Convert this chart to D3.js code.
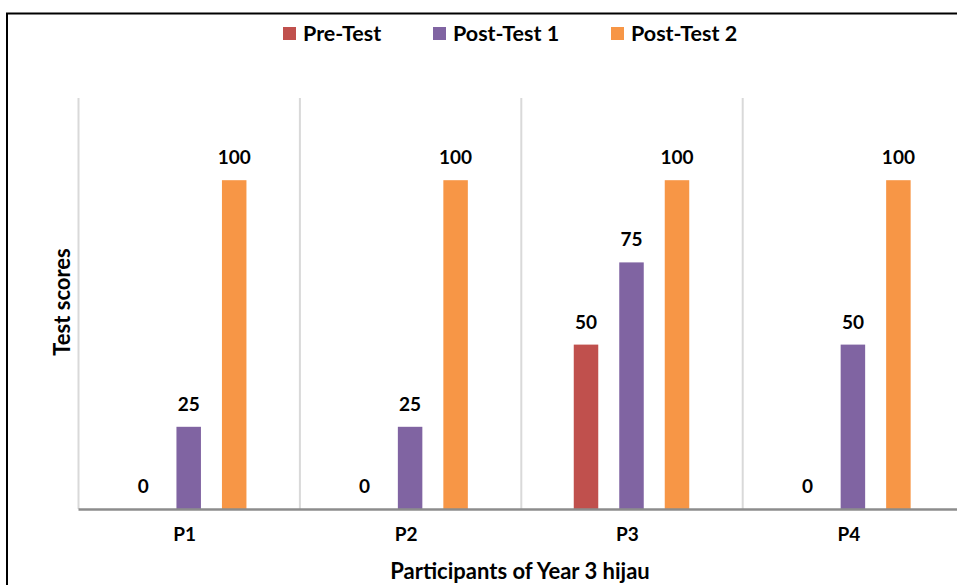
<!DOCTYPE html>
<html><head><meta charset="utf-8">
<script src="https://cdn.jsdelivr.net/npm/d3@7"></script>
<style>body{margin:0;background:#fff}svg{display:block;font-family:Lato,"Open Sans",sans-serif}</style>
</head><body>
<script>
const categories = ["P1","P2","P3","P4"];
const seriesNames = ["Pre-Test","Post-Test 1","Post-Test 2"];
const preTest = [0,0,50,0];
const postTest1 = [25,25,75,50];
const postTest2 = [100,100,100,100];
const colors = ["#c0504d","#8064a2","#f79646"];
const yTicks = [0,25,50,75,100,125];

const W=957,H=585;
const svg=d3.select("body").append("svg").attr("width",W).attr("height",H);
svg.append("rect").attr("x",0).attr("y",0).attr("width",W).attr("height",H).attr("fill","#fff");
// chart border (cropped)
svg.append("path").attr("d","M7,585 V13.5 H957").attr("fill","none").attr("stroke","#000").attr("stroke-width",2);

const plotLeft=78, catW=221.4, plotTop=98, plotBottom=509;
const x=d3.scaleBand().domain(categories).range([plotLeft,plotLeft+catW*4]).padding(0);
const y=d3.scaleLinear().domain([0,125]).range([plotBottom,plotTop]);
const xs=d3.scaleBand().domain(seriesNames).range([0,x.bandwidth()]).paddingInner(0.4615).paddingOuter(1.164);

// vertical category gridlines
const g=svg.append("g");
categories.forEach(c=>{
  g.append("line").attr("x1",x(c)+0.5).attr("x2",x(c)+0.5).attr("y1",y(125)).attr("y2",plotBottom)
   .attr("stroke","#d9d9d9").attr("stroke-width",2);
});

const series=[preTest,postTest1,postTest2];
series.forEach((vals,si)=>{
  categories.forEach((c,ci)=>{
    const v=vals[ci];
    const bx=x(c)+xs(seriesNames[si]);
    if(v>0) svg.append("rect").attr("x",bx).attr("y",y(v)).attr("width",xs.bandwidth()).attr("height",plotBottom-y(v)).attr("fill",colors[si]);
    svg.append("text").attr("x",bx+xs.bandwidth()/2).attr("y",y(v)-16).attr("text-anchor","middle")
      .attr("font-size",19).attr("font-weight",700).attr("fill","#000").text(v);
  });
});

// x axis
const xAxis=d3.axisBottom(x).tickSize(0).tickPadding(19);
const ax=svg.append("g").attr("transform",`translate(0,${plotBottom})`).call(xAxis);
ax.select(".domain").attr("stroke","#8c8c8c").attr("stroke-width",2.5);
ax.selectAll("text").attr("font-size",19).attr("font-weight",700).attr("fill","#000").attr("font-family","Lato,sans-serif").attr("dx",-4);

svg.append("text").attr("x",520).attr("y",579).attr("text-anchor","middle").attr("font-size",22).attr("font-weight",700).text("Participants of Year 3 hijau");
svg.append("text").attr("transform","translate(70,302) rotate(-90)").attr("text-anchor","middle").attr("font-size",22).attr("font-weight",700).text("Test scores");

// legend
const legX=[283,433,611];
seriesNames.forEach((n,i)=>{
  svg.append("rect").attr("x",legX[i]).attr("y",27).attr("width",13).attr("height",13).attr("fill",colors[i]);
  svg.append("text").attr("x",legX[i]+20).attr("y",41).attr("font-size",21.5).attr("font-weight",700).text(n);
});
</script>
</body></html>
